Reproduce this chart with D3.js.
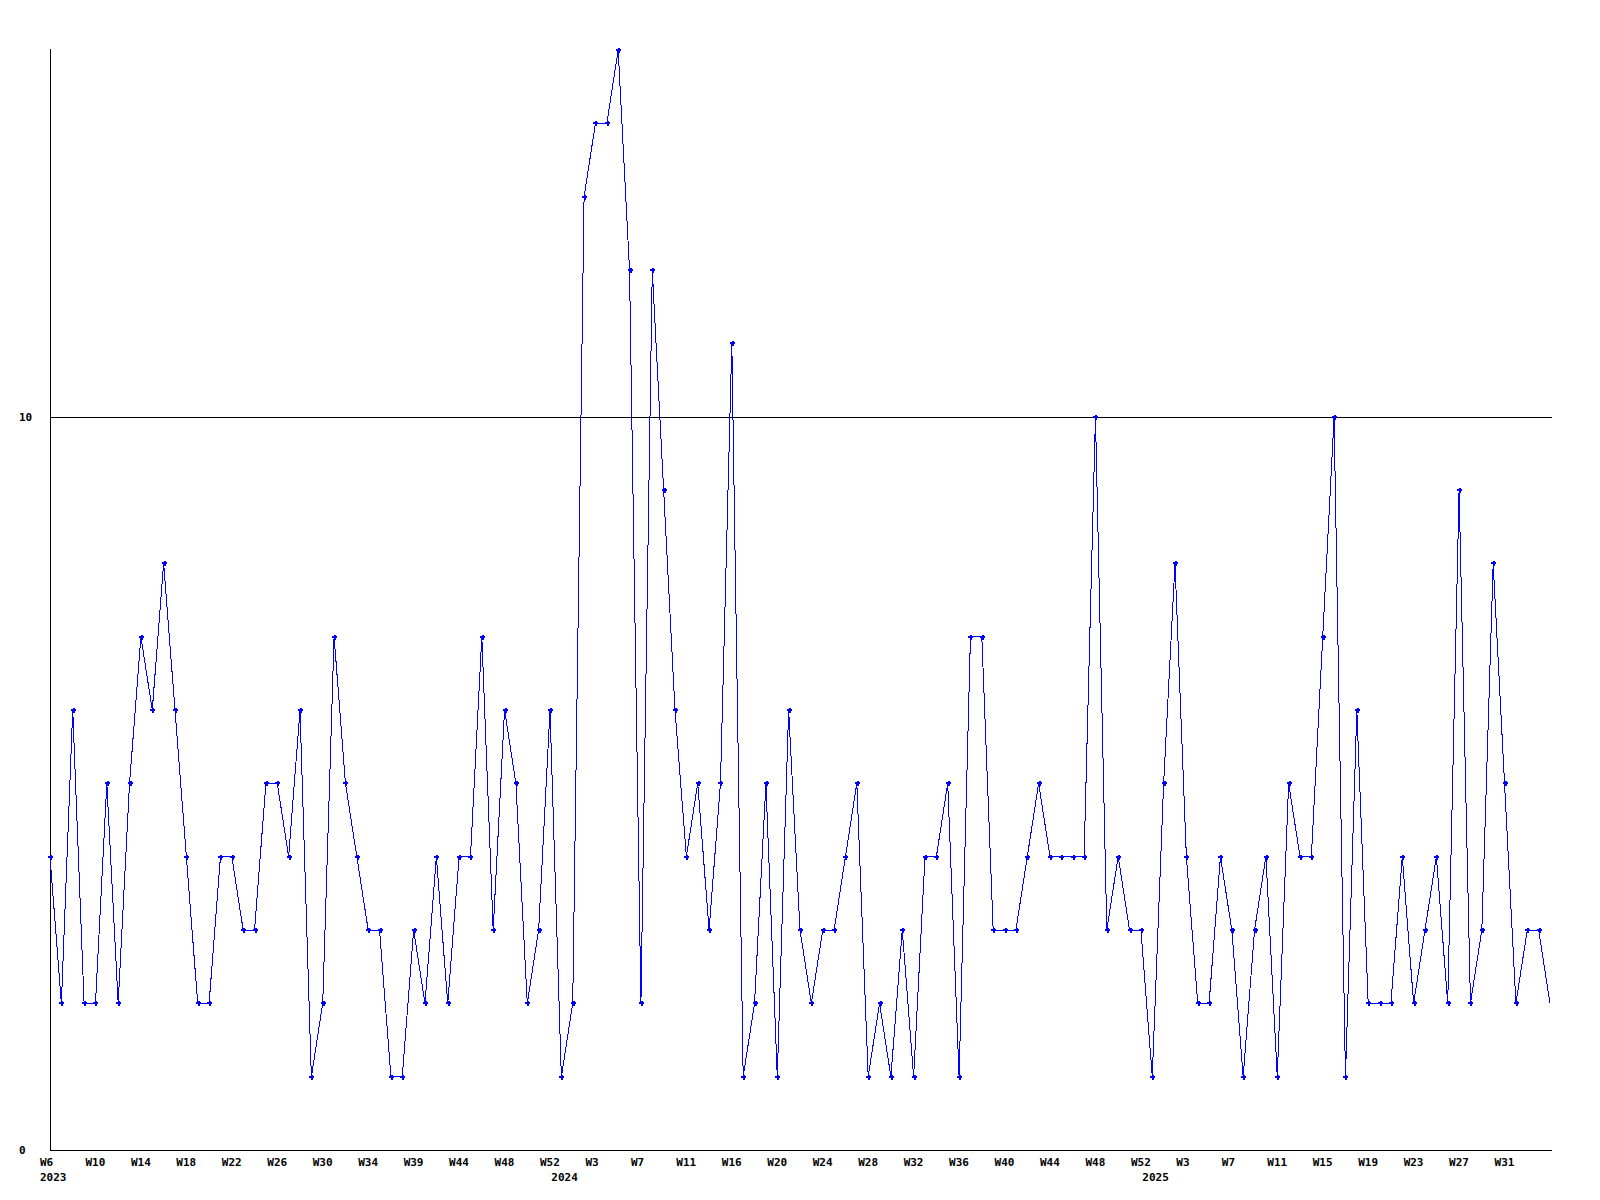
<!DOCTYPE html>
<html>
<head>
<meta charset="utf-8">
<script src="https://cdn.jsdelivr.net/npm/d3@7"></script>
<style>
  html, body { margin: 0; padding: 0; background: #fff; }
  svg { display: block; }
  text { font-family: "DejaVu Sans Mono", monospace; font-weight: bold; font-size: 11px; fill: #000; }
</style>
</head>
<body>
<svg id="chart" width="1600" height="1200"></svg>
<script>
// Weekly values (one per point, oldest first)
const values = [
  4, 2, 6, 2, 2, 5, 2, 5, 7, 6, 8, 6, 4, 2, 2, 4, 4, 3, 3, 5,
  5, 4, 6, 1, 2, 7, 5, 4, 3, 3, 1, 1, 3, 2, 4, 2, 4, 4, 7, 3,
  6, 5, 2, 3, 6, 1, 2, 13, 14, 14, 15, 12, 2, 12, 9, 6, 4, 5, 3, 5,
  11, 1, 2, 5, 1, 6, 3, 2, 3, 3, 4, 5, 1, 2, 1, 3, 1, 4, 4, 5,
  1, 7, 7, 3, 3, 3, 4, 5, 4, 4, 4, 4, 10, 3, 4, 3, 3, 1, 5, 8,
  4, 2, 2, 4, 3, 1, 3, 4, 1, 5, 4, 4, 7, 10, 1, 6, 2, 2, 2, 4,
  2, 3, 4, 2, 9, 2, 3, 8, 5, 2, 3, 3, 2
];
// Week tick labels, one every 4th point
const tickLabels = [
  "W6", "W10", "W14", "W18", "W22", "W26", "W30", "W34", "W39", "W44", "W48", "W52",
  "W3", "W7", "W11", "W16", "W20", "W24", "W28", "W32", "W36", "W40", "W44", "W48", "W52",
  "W3", "W7", "W11", "W15", "W19", "W23", "W27", "W31"
];
const tickEvery = 4;
// Year labels and the point index where each year starts
const yearLabels = ["2023", "2024", "2025"];
const yearStartIndex = [0, 45, 97];
// Y-axis labelled values
const yTicks = [0, 10];
const yMax = 15;

const svg = d3.select("#chart");
const mLeft = 50, mRight = 1550, mTop = 50, mBottom = 1150;

const x = d3.scalePoint().domain(d3.range(values.length)).range([mLeft, mRight]);
const y = d3.scaleLinear().domain([0, yMax]).range([mBottom, mTop]);

// Gridline at 10 (and labels)
const yg = svg.append("g");
yTicks.forEach(t => {
  if (t !== 0) {
    yg.append("line")
      .attr("x1", mLeft).attr("x2", mRight + 2)
      .attr("y1", Math.round(y(t)) + 0.5).attr("y2", Math.round(y(t)) + 0.5)
      .attr("stroke", "#000").attr("stroke-width", 1);
  }
  yg.append("text")
    .attr("x", 19).attr("y", Math.round(y(t)) + 4)
    .text(t);
});

// Axes lines
svg.append("line")
  .attr("x1", mLeft + 0.5).attr("x2", mLeft + 0.5)
  .attr("y1", mTop - 1).attr("y2", mBottom)
  .attr("stroke", "#000").attr("stroke-width", 1);
svg.append("line")
  .attr("x1", mLeft).attr("x2", mRight + 2)
  .attr("y1", mBottom + 0.5).attr("y2", mBottom + 0.5)
  .attr("stroke", "#000").attr("stroke-width", 1);

// Week labels
svg.append("g").selectAll("text")
  .data(tickLabels)
  .join("text")
  .attr("x", (d, i) => x(i * tickEvery) - 10)
  .attr("y", 1166)
  .text(d => d);

// Year labels
svg.append("g").selectAll("text")
  .data(yearLabels)
  .join("text")
  .attr("x", (d, i) => x(yearStartIndex[i]) - 10)
  .attr("y", 1181)
  .text(d => d);

// Line
const line = d3.line()
  .x((d, i) => x(i))
  .y(d => y(d));
svg.append("path")
  .datum(values)
  .attr("d", line)
  .attr("fill", "none")
  .attr("stroke", "#0000ff")
  .attr("stroke-width", 1)
  .attr("shape-rendering", "crispEdges");

// Cross markers (last, incomplete point has none)
svg.append("g").selectAll("path")
  .data(values.slice(0, -1))
  .join("path")
  .attr("transform", (d, i) => `translate(${Math.round(x(i))},${Math.round(y(d))})`)
  .attr("d", "M-2,0H3M0.5,-2.5V2.5")
  .attr("stroke", "#0000ff")
  .attr("stroke-width", 2)
  .attr("shape-rendering", "crispEdges")
  .attr("fill", "none");
</script>
</body>
</html>
